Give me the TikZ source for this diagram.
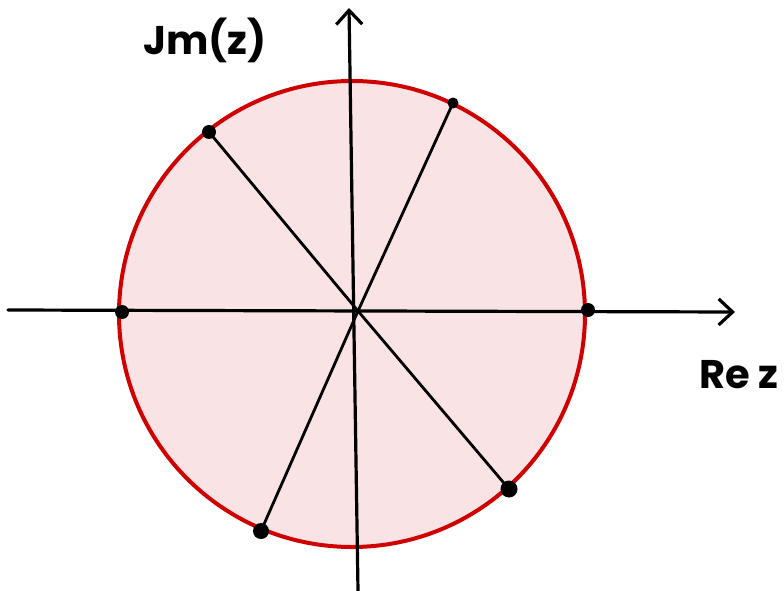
\documentclass[tikz,border=0pt]{standalone}
\usepackage{fontspec}
\setmainfont{Poppins}
\usetikzlibrary{arrows.meta}
\definecolor{diskfill}{HTML}{F9E3E4}
\definecolor{diskline}{HTML}{D00000}
\begin{document}
\begin{tikzpicture}[x=1pt,y=-1pt,
  pt/.style={circle,fill=black,inner sep=0pt,minimum size=#1},
  pt/.default=14pt,
  axis/.style={line width=3.2pt,line cap=round,-{Straight Barb[length=14pt,width=26pt,line width=3.2pt]}},
  ray/.style={line width=2.8pt,line cap=round},
  lbl/.style={font=\fontsize{40}{44}\selectfont\bfseries,inner sep=1pt}]
\useasboundingbox (0,0) rectangle (784,591);
\fill[diskfill] (352,314) circle (233);
\draw[diskline,line width=4pt] (352,314) circle (233);
\coordinate (O) at (358,311);
\coordinate (xl) at (8,310);
\coordinate (xr) at (735,312);
\coordinate (yb) at (358,591);
\coordinate (yt) at (349,8);
\draw[axis] (xl) -- (xr);
\draw[axis] (yb) -- (yt);
\node[pt] (p1) at (209,132) {};
\node[pt=11pt] (p2) at (453,103) {};
\node[pt] (p3) at (122,312) {};
\node[pt] (p4) at (588,310) {};
\node[pt=17pt] (p5) at (509,489) {};
\node[pt=16pt] (p6) at (261,531) {};
\draw[ray] (p1.center) -- (O) -- (p5.center);
\draw[ray] (p2.center) -- (O) -- (p6.center);
\node[lbl] (im) at (205,40) {Jm(z)};
\node[lbl,anchor=east] (re) at (780,375) {Re z};
\end{tikzpicture}
\end{document}
